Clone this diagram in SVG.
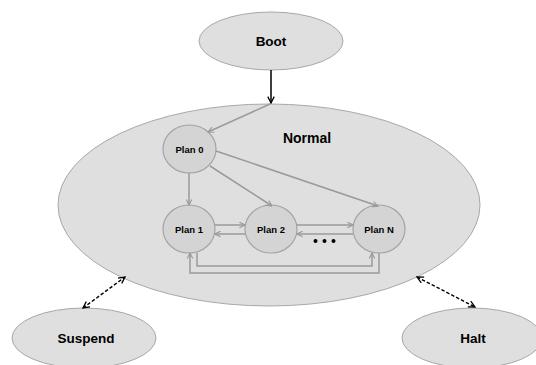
<svg xmlns="http://www.w3.org/2000/svg" width="536" height="365" viewBox="0 0 536 365">
<defs>
<marker id="ag" viewBox="0 0 10 10" refX="9" refY="5" markerWidth="7" markerHeight="7" markerUnits="userSpaceOnUse" orient="auto"><path d="M1,1 L9,5 L1,9" fill="none" stroke="#9a9a9a" stroke-width="1.6"/></marker>
<marker id="ab" viewBox="0 0 10 10" refX="9" refY="5" markerWidth="8" markerHeight="8" markerUnits="userSpaceOnUse" orient="auto-start-reverse"><path d="M1,1 L9,5 L1,9" fill="none" stroke="#000" stroke-width="1.6"/></marker>
</defs>
<style>
.st{fill:#dfdfdf;stroke:#a8a8a8;stroke-width:1}
.pl{fill:#d4d4d4;stroke:#a4a4a4;stroke-width:1.2}
.t{font-family:"Liberation Sans",Arial,sans-serif;font-weight:bold;fill:#000;text-anchor:middle}
.big{font-size:13.5px}
.sm{font-size:9.5px}
.g{fill:none;stroke:#9a9a9a;stroke-width:1.5;marker-end:url(#ag)}
.d{fill:none;stroke:#000;stroke-width:1.4;stroke-dasharray:3.5,2;marker-start:url(#ab);marker-end:url(#ab)}
</style>
<g id="boot"><ellipse class="st" cx="271" cy="41" rx="72" ry="29"/><text class="t big" x="271" y="46">Boot</text></g>
<g id="normal"><ellipse class="st" cx="269" cy="205" rx="211" ry="101"/><text class="t" style="font-size:14px" x="307" y="143">Normal</text></g>
<g id="suspend"><ellipse class="st" cx="84" cy="338" rx="72" ry="30"/><text class="t big" x="86" y="343">Suspend</text></g>
<g id="halt"><ellipse class="st" cx="472" cy="338" rx="70" ry="30"/><text class="t big" x="473" y="343">Halt</text></g>
<g id="plan0"><ellipse class="pl" cx="189.5" cy="149" rx="26.5" ry="24"/><text class="t sm" x="189.5" y="152.5">Plan 0</text></g>
<g id="plan1"><ellipse class="pl" cx="189" cy="229" rx="26" ry="24"/><text class="t sm" x="189" y="232.5">Plan 1</text></g>
<g id="plan2"><ellipse class="pl" cx="271" cy="229" rx="26" ry="24"/><text class="t sm" x="271" y="232.5">Plan 2</text></g>
<g id="planN"><ellipse class="pl" cx="379" cy="229" rx="26" ry="24"/><text class="t sm" x="379" y="232.5">Plan N</text></g>
<g id="connectors">
<line x1="271" y1="70" x2="271" y2="103" stroke="#000" stroke-width="1.5" marker-end="url(#ab)"/>
<line class="g" x1="270" y1="104" x2="208" y2="132"/>
<line class="g" x1="189" y1="173" x2="189" y2="205"/>
<line class="g" x1="210" y1="166" x2="272" y2="206"/>
<line class="g" x1="216" y1="151" x2="378" y2="206"/>
<line class="g" x1="215" y1="225" x2="245" y2="225"/>
<line class="g" x1="245" y1="234" x2="215" y2="234"/>
<line class="g" x1="297" y1="225" x2="353" y2="225"/>
<line class="g" x1="353" y1="234" x2="297" y2="234"/>
<path class="g" d="M197,253 V266 H372 V253"/>
<path class="g" d="M379,253 V273 H190 V253"/>
<line class="d" x1="83" y1="308" x2="125" y2="277"/>
<line class="d" x1="417" y1="277" x2="475" y2="307"/>
</g>
<g id="dots" fill="#000"><circle cx="315.5" cy="241" r="2"/><circle cx="324.5" cy="241" r="2"/><circle cx="333.5" cy="241" r="2"/></g>
</svg>
